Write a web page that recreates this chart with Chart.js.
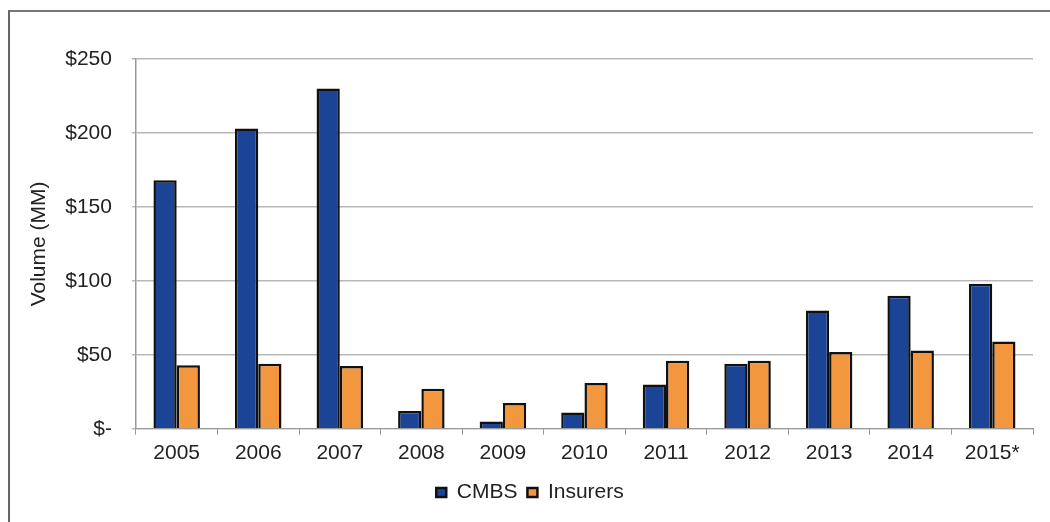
<!DOCTYPE html>
<html>
<head>
<meta charset="utf-8">
<script src="https://cdn.jsdelivr.net/npm/chart.js@4/dist/chart.umd.min.js"></script>
<style>
  html, body { margin: 0; padding: 0; background: #fff; }
  #wrap { position: relative; width: 1050px; height: 522px; overflow: hidden; }
  #frame { position: absolute; left: 8px; top: 10px; width: 1100px; height: 600px;
           border-left: 2px solid #666; border-top: 2px solid #777; }
  canvas { position: absolute; left: 0; top: 0; }
</style>
</head>
<body>
<div id="wrap">
  <div id="frame"></div>
  <canvas id="volumeChart" width="1050" height="522"></canvas>
</div>
<script>
const years = ['2005', '2006', '2007', '2008', '2009', '2010', '2011', '2012', '2013', '2014', '2015*'];
const cmbsVolume = [168, 203, 230, 12, 5, 11, 30, 44, 80, 90, 98];
const insurersVolume = [43, 44, 42.5, 27, 17.5, 31, 46, 46, 52, 53, 59];
const yTicks = [0, 50, 100, 150, 200, 250];

const ctx = document.getElementById('volumeChart').getContext('2d');
Chart.defaults.font.family = '"Liberation Sans", Arial, sans-serif';
Chart.defaults.color = '#222';

new Chart(ctx, {
    type: 'bar',
    data: {
        labels: years,
        datasets: [{
            label: 'CMBS',
            data: cmbsVolume,
            backgroundColor: '#1b4497',
            borderColor: '#111',
            borderWidth: 2.5,
            barPercentage: 1,
            categoryPercentage: 0.57
        }, {
            label: 'Insurers',
            data: insurersVolume,
            backgroundColor: '#f3973f',
            borderColor: '#111',
            borderWidth: 2.5,
            barPercentage: 1,
            categoryPercentage: 0.57
        }]
    },
    options: {
        responsive: false,
        animation: false,
        layout: { padding: { top: 59, left: 27, right: 17, bottom: 9 } },
        plugins: {
            tooltip: { enabled: false },
            legend: {
                position: 'bottom',
                labels: {
                    font: { size: 21 },
                    boxWidth: 10,
                    boxHeight: 9,
                    padding: 10,
                    color: '#222'
                }
            }
        },
        scales: {
            x: {
                grid: { display: true, drawOnChartArea: false, offset: true, color: '#999', tickLength: 6 },
                border: { color: '#999', width: 1 },
                ticks: { font: { size: 21 }, padding: 6, color: '#222' }
            },
            y: {
                min: 0,
                max: 250,
                afterBuildTicks: axis => { axis.ticks = yTicks.map(v => ({ value: v })); },
                grid: { color: '#b8b8b8', lineWidth: 1.5, tickLength: 4 },
                border: { color: '#999', width: 1.5 },
                ticks: {
                    font: { size: 21 },
                    padding: 20,
                    color: '#222',
                    callback: v => v === 0 ? '$-' : '$' + v
                },
                title: {
                    display: true,
                    text: 'Volume (MM)',
                    font: { size: 21 },
                    color: '#222',
                    padding: { top: 0, bottom: -7 }
                }
            }
        }
    }
});
</script>
</body>
</html>
